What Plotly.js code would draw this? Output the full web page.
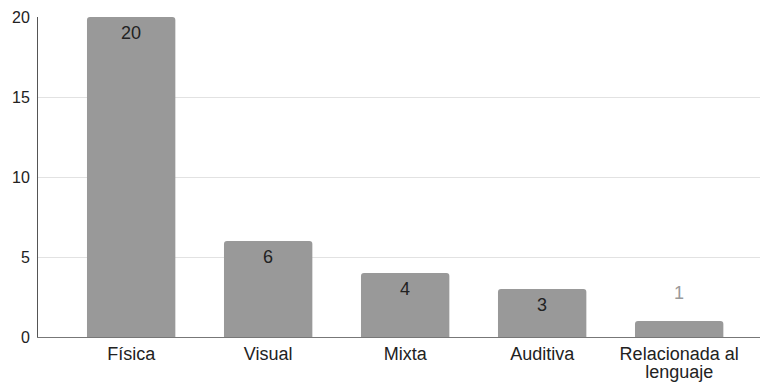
<!DOCTYPE html>
<html>
<head>
<meta charset="utf-8">
<script src="https://cdn.plot.ly/plotly-3.0.1.min.js"></script>
<style>
  html, body { margin: 0; padding: 0; background: #ffffff; }
  #chart { width: 760px; height: 383px; }
</style>
</head>
<body>
<div id="chart"></div>
<script>
// Tipos de discapacidad y número de casos
const categories = ["Física", "Visual", "Mixta", "Auditiva", "Relacionada al<br>lenguaje"];
const counts = [20, 6, 4, 3, 1];
const yTicks = [0, 5, 10, 15, 20];

const FONT = "Liberation Sans, Arial, sans-serif";
const BAR_GREY = "#999999";

// Value labels: inside near the top of tall bars, above short ones
const labels = counts.map((v, i) => {
  const inside = v >= 3;
  return {
    x: categories[i],
    y: v,
    xref: "x",
    yref: "y",
    text: String(v),
    showarrow: false,
    yanchor: "middle",
    yshift: inside ? -16 : 28,
    font: { family: FONT, size: 18, color: inside ? "#222222" : "#9a9a9a" }
  };
});

const trace = {
  type: "bar",
  x: categories,
  y: counts,
  width: 0.645,
  marker: { color: BAR_GREY, cornerradius: 3, line: { width: 0 } },
  hoverinfo: "x+y"
};

const layout = {
  width: 760,
  height: 383,
  margin: { l: 38, r: 0, t: 17, b: 46, pad: 0 },
  paper_bgcolor: "#ffffff",
  plot_bgcolor: "#ffffff",
  showlegend: false,
  font: { family: FONT, color: "#222222" },
  xaxis: {
    type: "category",
    range: [-0.68, 4.59],
    showgrid: false,
    zeroline: false,
    showline: true,
    linecolor: "#777777",
    linewidth: 1,
    ticks: "",
    tickfont: { family: FONT, size: 18, color: "#222222" },
    ticklabelstandoff: 0
  },
  yaxis: {
    range: [0, 20],
    tickvals: yTicks,
    ticktext: yTicks.map(String),
    showgrid: true,
    gridcolor: "#e2e2e2",
    gridwidth: 1,
    zeroline: false,
    showline: true,
    linecolor: "#555555",
    linewidth: 1,
    ticks: "",
    tickfont: { family: FONT, size: 16, color: "#222222" },
    ticklabelstandoff: 4
  },
  annotations: labels
};

Plotly.newPlot("chart", [trace], layout, { displayModeBar: false, staticPlot: true })
  .then(gd => {
    // Tighter line spacing for wrapped category labels
    gd.querySelectorAll(".xtick text tspan.line").forEach(t => {
      if (t.getAttribute("dy") && t.getAttribute("dy") !== "0em") {
        t.setAttribute("dy", "1em");
      }
    });
  });
</script>
</body>
</html>
